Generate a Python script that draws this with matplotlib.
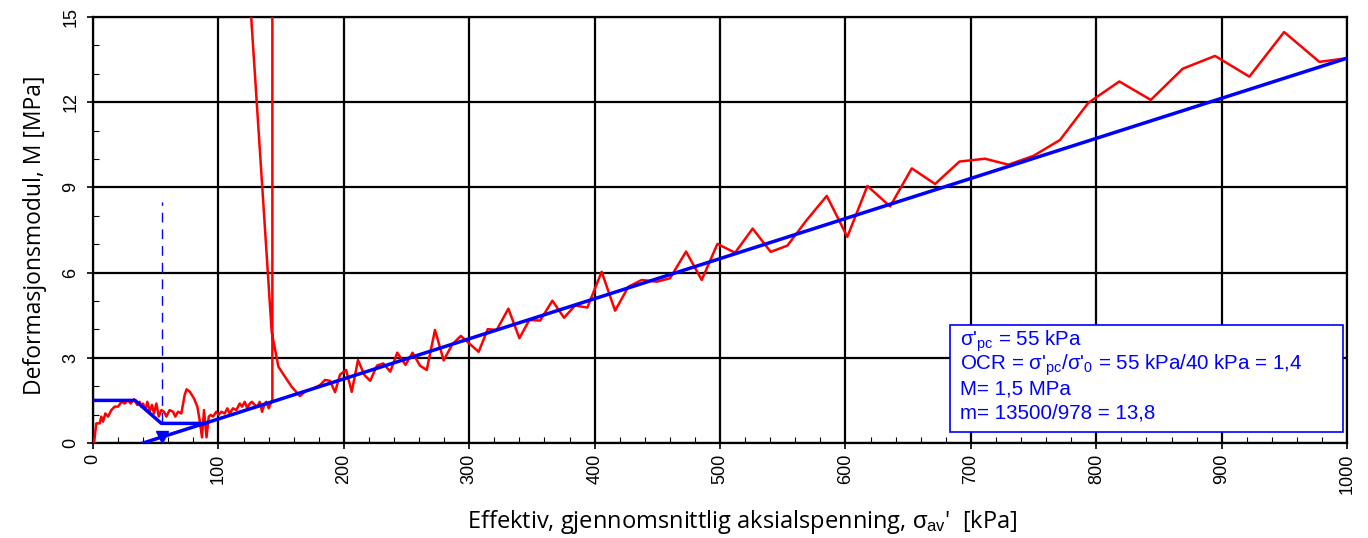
import numpy as np
import matplotlib
matplotlib.use("Agg")
import matplotlib.pyplot as plt
from matplotlib.patches import Rectangle
from matplotlib.ticker import MultipleLocator

plt.rcParams['font.family'] = ['Liberation Sans', 'DejaVu Sans']
plt.rcParams['mathtext.fontset'] = 'custom'
plt.rcParams['mathtext.rm'] = 'Liberation Sans'
plt.rcParams['mathtext.it'] = 'Liberation Sans'

# målt modul (rød kurve), effektiv spenning [kPa] og M [MPa]
sigma_m = [0.8, 2.6, 5.3, 6.6, 8, 9.8, 12, 14.6, 17.3, 20, 22.6, 25.3, 27.9, 30, 32.7,
           35.3, 37.2, 38.5, 39.9, 41.7, 43.3, 45.2, 47, 48.6, 50.5, 52.4, 54.5, 56.6,
           58.5, 61.1, 63.8, 65.6, 67.8, 70.4, 73.1, 74.6, 77.1, 80.5, 83.2, 85, 86.9,
           88.5, 90.5, 92.3, 93.9, 95.7, 98.3, 100.2, 102.3, 105, 107.1, 109, 111.6,
           114.3, 117, 118.8, 121, 123, 125, 126.8, 128.9, 131, 132.9, 134.8, 136.9,
           138.2, 140.1, 141.7, 143, 143, 118, 142.5,
           147.8, 153.1, 158.4, 165, 169, 175.7, 181, 185, 189, 193, 197, 201.8, 206.3,
           211.3, 216.5, 221, 226.5, 231.5, 237, 242.6, 249.2, 254.8, 260.8, 266.1,
           272.7, 279.6, 286.6, 293.3, 300.6, 307.5, 314.8, 321.9, 331.2, 340, 347.9,
           356.5, 366.3, 375.6, 384.4, 394.2, 405.6, 416.3, 426.9, 437.5, 449.5, 460.1,
           472.9, 485.4, 497.9, 512, 526, 540.4, 553.7, 569.1, 585.1, 601.5, 617.5,
           635.6, 652.9, 671.5, 690.9, 711.3, 729.9, 749.9, 771.1, 793.7, 818.4, 843.5,
           869, 894.7, 922.1, 949.8, 977.9, 1000]
M_m = [0, 0.69, 0.69, 0.93, 0.75, 1.04, 0.93, 1.16, 1.28, 1.28, 1.45, 1.39, 1.51, 1.39, 1.54,
       1.34, 1.45, 1.28, 1.39, 1.16, 1.45, 1.10, 1.34, 1.04, 1.39, 0.93, 1.16, 1.10,
       0.93, 1.16, 1.10, 0.93, 1.10, 1.04, 1.69, 1.89, 1.81, 1.57, 1.28, 0.81, 0.2,
       1.16, 0.2, 0.93, 0.99, 0.93, 1.10, 0.99, 1.10, 1.04, 1.22, 1.04, 1.22,
       1.16, 1.39, 1.28, 1.45, 1.22, 1.39, 1.45, 1.34, 1.28, 1.45, 1.10, 1.39,
       1.45, 1.22, 1.39, 1.5, 20.5, 20.5, 3.9,
       2.69, 2.33, 1.98, 1.65, 1.81, 1.92, 2.04, 2.22, 2.19, 1.79, 2.41, 2.57, 1.8,
       2.92, 2.39, 2.19, 2.73, 2.80, 2.51, 3.18, 2.75, 3.18, 2.72, 2.57,
       3.98, 2.91, 3.48, 3.77, 3.48, 3.21, 4.01, 3.98, 4.73, 3.69, 4.33,
       4.31, 5.01, 4.41, 4.84, 4.77, 6.03, 4.66, 5.50, 5.74, 5.68, 5.80,
       6.74, 5.74, 7.01, 6.70, 7.55, 6.73, 6.95, 7.85, 8.70, 7.26, 9.05,
       8.33, 9.67, 9.12, 9.91, 10.01, 9.80, 10.11, 10.67, 11.98, 12.73, 12.08,
       13.18, 13.63, 12.90, 14.47, 13.42, 13.55]

# tilpasset linje og OCR-konstruksjon (blå)
fit_sigma = [40, 1000]
fit_M = [0, 13.55]
ocr_sigma = [0, 33.5, 54.5, 89]
ocr_M = [1.5, 1.5, 0.69, 0.69]
sigma_pc = 55
pc_line_M = [0.75, 8.5]
pc_marker_M = 0.22

info_lines = ["σ'$_{\\rm pc}$ = 55 kPa",
              "OCR = σ'$_{\\rm pc}$/σ'$_{\\rm 0}$ = 55 kPa/40 kPa = 1,4",
              "M= 1,5 MPa",
              "m= 13500/978 = 13,8"]

fig = plt.figure(figsize=(13.68, 5.38), dpi=100)
ax = fig.add_axes([0.068, 0.1766, 0.9167, 0.7918])

ax.plot(sigma_m, M_m, color='red', lw=1.8, zorder=3)
ax.plot(ocr_sigma, ocr_M, color='blue', lw=2.5, zorder=4)
ax.plot(fit_sigma, fit_M, color='blue', lw=2.5, zorder=4)
ax.plot([sigma_pc, sigma_pc], pc_line_M, color='blue', lw=1, ls=(0, (7, 5)), zorder=4)
ax.plot([sigma_pc], [pc_marker_M], marker='v', color='blue', ms=9, zorder=5)

ax.set_xlim(0, 1000)
ax.set_ylim(0, 15)
ax.xaxis.set_major_locator(MultipleLocator(100))
ax.xaxis.set_minor_locator(MultipleLocator(20))
ax.yaxis.set_major_locator(MultipleLocator(3))
ax.yaxis.set_minor_locator(MultipleLocator(1))
ax.grid(True, which='major', color='black', lw=1.6, zorder=1)
ax.set_axisbelow(True)
for s in ax.spines.values():
    s.set_linewidth(1.6)
ax.tick_params(which='major', direction='out', length=4, width=1.2, labelsize=13)
ax.tick_params(which='minor', direction='in', length=4, width=0.8)
ax.tick_params(axis='x', labelrotation=90, pad=4)
ax.tick_params(axis='y', labelrotation=90, pad=6)
for lab in ax.get_yticklabels():
    lab.set_va('center')

ax.set_xlabel("Effektiv, gjennomsnittlig aksialspenning, $\\sigma_{\\rm av}$'  [kPa]",
              family='Open Sans', fontsize=17)
ax.xaxis.label.set_va('center')
ax.xaxis.set_label_coords(0.518, -0.185)
ax.set_ylabel("Deformasjonsmodul, M [MPa]", family='Open Sans', fontsize=16.5)
ax.yaxis.label.set_va('center')
ax.yaxis.set_label_coords(-0.046, 0.488)

# tekstboks med resultater
ax.add_patch(Rectangle((0.683, 0.026), 0.3138, 0.251, transform=ax.transAxes,
                       fc='white', ec='blue', lw=1.2, zorder=6))
for i, line in enumerate(info_lines):
    ax.text(0.6914, 0.2394 - i * 0.0563, line, transform=ax.transAxes, color='blue',
            fontsize=14.8, va='center', ha='left', zorder=7)

fig.savefig("out.png", dpi=100)
